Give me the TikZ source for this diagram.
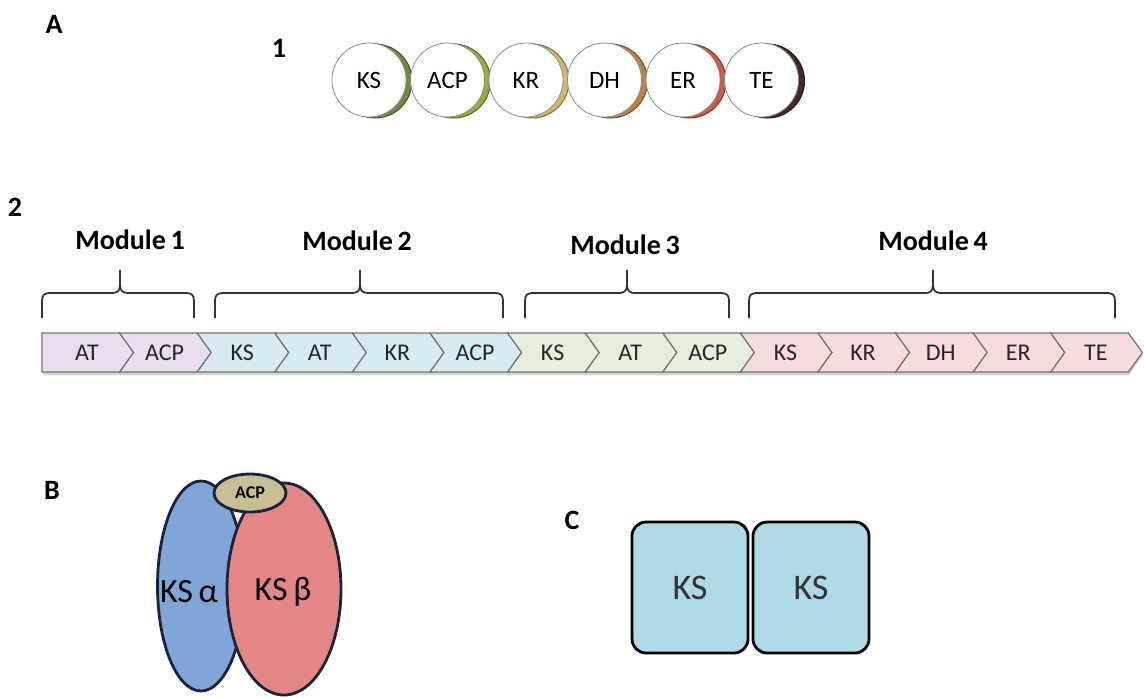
\documentclass[tikz,border=0pt]{standalone}
\usepackage{fontspec}
\setmainfont{Carlito}
\usepackage{amsmath}

\definecolor{modA}{RGB}{234,222,238}
\definecolor{modB}{RGB}{216,235,243}
\definecolor{modC}{RGB}{230,238,220}
\definecolor{modD}{RGB}{246,220,220}
\definecolor{ksblue}{RGB}{128,166,216}
\definecolor{ksred}{RGB}{226,134,134}
\definecolor{acpkhaki}{RGB}{200,190,150}
\definecolor{kslight}{RGB}{174,218,232}
\definecolor{navyline}{RGB}{25,35,60}
\definecolor{rimA}{RGB}{110,140,60}
\definecolor{rimB}{RGB}{150,172,60}
\definecolor{rimC}{RGB}{205,185,105}
\definecolor{rimD}{RGB}{190,130,70}
\definecolor{rimE}{RGB}{205,90,70}
\definecolor{rimF}{RGB}{70,40,40}

% curly bracket over one module: left x, tip x, right x
\newcommand{\modbrace}[3]{%
  \draw[bracket] (#1,318) -- (#1,301) .. controls (#1,295) and (#1+2,293) .. (#1+9,293)
    -- (#2-8,293) .. controls (#2-3,293) and (#2,291) .. (#2,285) -- (#2,270);
  \draw[bracket] (#2,285) .. controls (#2,291) and (#2+3,293) .. (#2+8,293)
    -- (#3-9,293) .. controls (#3-2,293) and (#3,295) .. (#3,301) -- (#3,318);
}

\begin{document}
\begin{tikzpicture}[x=0.5pt,y=-0.5pt,
    panel/.style={font=\bfseries\fontsize{14}{16}\selectfont},
    modlabel/.style={font=\bfseries\fontsize{14}{16}\selectfont},
    seglabel/.style={font=\fontsize{12}{14}\selectfont,text=black!85},
    bracket/.style={draw=black!80,line width=0.9pt},
    segshape/.style={draw=black!55,line width=0.6pt},
    pksdomain/.style={circle,draw=black!45,fill=white,minimum size=37pt,inner sep=0pt,
      font=\fontsize{12.5}{14}\selectfont},
    ksbox/.style={rectangle,rounded corners=7pt,draw=black,line width=1.4pt,fill=kslight,
      minimum width=58pt,minimum height=65.5pt,font=\fontsize{18}{20}\selectfont,text=black!80}]
  \useasboundingbox (0,0) rectangle (1144,698);

  % panel labels
  \node[panel] (labA) at (54,24) {A};
  \node[panel] (lab1) at (279,48) {1};
  \node[panel] (lab2) at (15,207) {2};
  \node[panel] (labB) at (52,490) {B};
  \node[panel] (labC) at (572,520) {C};

  % A1: iterative domains
  \foreach \lab/\rim [count=\i from 0] in {KS/rimA,ACP/rimB,KR/rimC,DH/rimD,ER/rimE,TE/rimF} {
    \filldraw[fill=\rim,draw=\rim!60!black,line width=0.5pt] (369+78.5*\i+6,81) circle (18.5pt);
    \node[pksdomain] (dom\i) at (369+78.5*\i,80) {\lab};
  }

  % A2: modules
  \node[modlabel] (mod1) at (130,240) {Module\,1};
  \node[modlabel] (mod2) at (357,241) {Module\,2};
  \node[modlabel] (mod3) at (625,245) {Module\,3};
  \node[modlabel] (mod4) at (933,241) {Module\,4};
  \modbrace{42}{120}{194}
  \modbrace{215}{360}{503}
  \modbrace{525}{627}{729}
  \modbrace{749}{933}{1115}

  \fill[black!18] (43,335) -- (1129,335) -- (1143,355) -- (1129,375) -- (43,375) -- cycle;
  \foreach \lab/\col [count=\i from 0] in {AT/modA,ACP/modA,KS/modB,AT/modB,KR/modB,ACP/modB,
      KS/modC,AT/modC,ACP/modC,KS/modD,KR/modD,DH/modD,ER/modD,TE/modD} {
    \pgfmathsetmacro\xl{42+77.6*\i}
    \pgfmathsetmacro\xr{\xl+77.6}
    \ifnum\i=0
      \filldraw[segshape,fill=\col] (\xl,333) -- (\xr,333) -- (\xr+14,352.5) -- (\xr,372) -- (\xl,372) -- cycle;
    \else
      \filldraw[segshape,fill=\col] (\xl,333) -- (\xr,333) -- (\xr+14,352.5) -- (\xr,372) -- (\xl,372) -- (\xl+14,352.5) -- cycle;
    \fi
    \node[seglabel] (seg\i) at (\xl+45,353) {\lab};
  }

  % B: heterodimer
  \filldraw[fill=ksblue,draw=navyline,line width=1.4pt] (201,586) ellipse [x radius=21.75pt, y radius=52.5pt];
  \filldraw[fill=ksred,draw=navyline,line width=1.4pt] (284,589) ellipse [x radius=28.5pt, y radius=53pt];
  \filldraw[fill=acpkhaki,draw=navyline,line width=1.4pt] (250,493) ellipse [x radius=18pt, y radius=9.5pt];
  \node[font=\bfseries\fontsize{9}{10}\selectfont] (acpB) at (250,493) {ACP};
  \node[font=\fontsize{17}{19}\selectfont] (ksa) at (189,592) {KS\,α};
  \node[font=\fontsize{17}{19}\selectfont] (ksb) at (283,592) {KS\,β};

  % C: homodimer
  \node[ksbox] (ksL) at (690,587.5) {KS};
  \node[ksbox] (ksR) at (811,587.5) {KS};
\end{tikzpicture}
\end{document}
